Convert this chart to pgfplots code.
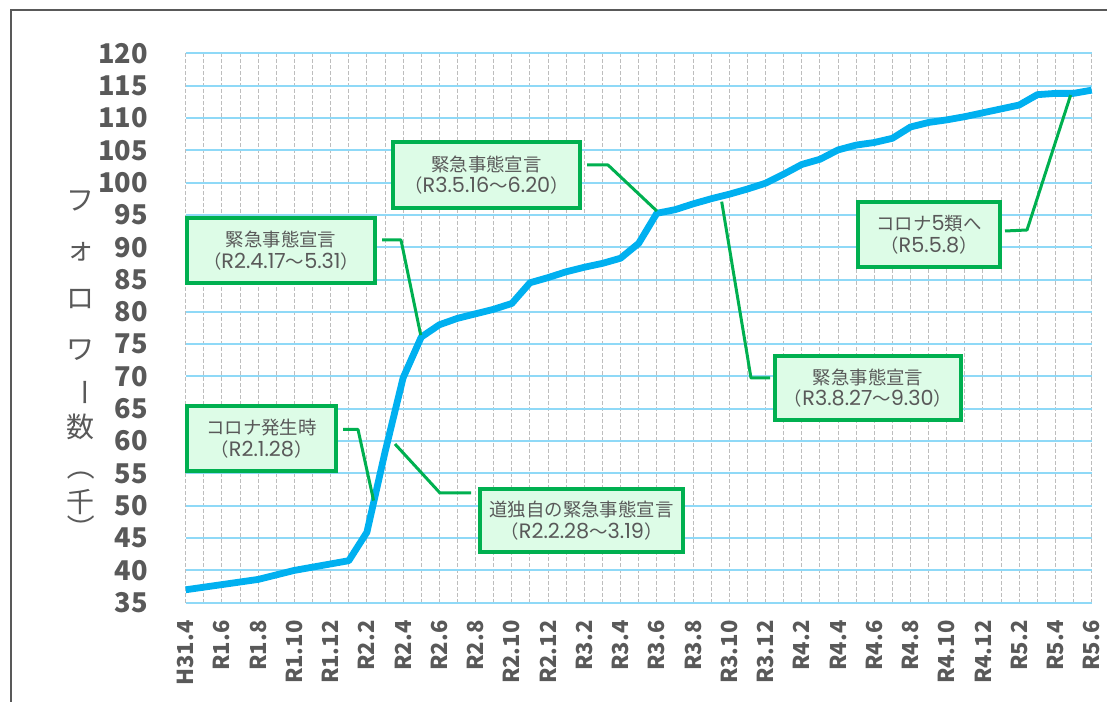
\documentclass[border=0pt]{standalone}
\usepackage{fontspec}
\setmainfont{Noto Sans CJK JP}
\newfontfamily\pop{Poppins}
\newcommand\lat[1]{{\fontsize{10.4}{10.8}\selectfont\pop #1}}
\usepackage{pgfplots}
\pgfplotsset{compat=1.18}
\definecolor{lineblue}{HTML}{00B0F0}
\definecolor{gridblue}{HTML}{8FD9F7}
\definecolor{gridgray}{HTML}{BDBDBD}
\definecolor{boxgreen}{HTML}{00B050}
\definecolor{boxfill}{HTML}{DDFCE7}
\definecolor{txtgray}{HTML}{595959}
\definecolor{framegray}{HTML}{595959}
\begin{document}
\begin{tikzpicture}
\useasboundingbox (0,0) rectangle (553.5pt,350.5pt);
\begin{axis}[
  at={(92.85pt,49.15pt)}, anchor=south west,
  scale only axis, width=453pt, height=274.7pt,
  xmin=0, xmax=50, ymin=35, ymax=120,
  clip=false,
  axis line style={draw=none},
  major tick length=0pt, minor tick length=0pt,
  xtick={0,2,...,50}, minor xtick={1,3,...,49},
  xticklabels={H31.4,R1.6,R1.8,R1.10,R1.12,R2.2,R2.4,R2.6,R2.8,R2.10,R2.12,R3.2,R3.4,R3.6,R3.8,R3.10,R3.12,R4.2,R4.4,R4.6,R4.8,R4.10,R4.12,R5.2,R5.4,R5.6},
  ytick={35,40,...,120},
  xmajorgrids, xminorgrids, ymajorgrids,
  major x grid style={gridgray, dash pattern=on 2pt off 1pt, line width=0.5pt},
  minor x grid style={gridgray, dash pattern=on 2pt off 1pt, line width=0.5pt},
  major y grid style={gridblue, line width=1pt},
  /pgf/number format/assume math mode=true,
  xticklabel style={rotate=90, anchor=east, inner sep=0pt, text=txtgray, font=\fontsize{11}{13}\selectfont\bfseries},
  yticklabel style={anchor=east, inner sep=0pt, text=txtgray, font=\fontsize{13.6}{16}\selectfont\bfseries},
  xticklabel shift=8.7pt,
  yticklabel shift=18.7pt,
]
\addplot[lineblue, line width=3.4pt, line join=round] coordinates {
(0,37.0) (1,37.4) (2,37.8) (3,38.2) (4,38.6) (5,39.3) (6,40.0) (7,40.5) (8,41.0) (9,41.5)
(10,45.9) (11,58.3) (12,69.8) (13,76.1) (14,78.0) (15,79.0) (16,79.7) (17,80.4) (18,81.3) (19,84.5)
(20,85.3) (21,86.2) (22,86.9) (23,87.5) (24,88.3) (25,90.6) (26,95.25) (27,95.8) (28,96.7) (29,97.5)
(30,98.2) (31,99.0) (32,99.9) (33,101.3) (34,102.8) (35,103.6) (36,105.05) (37,105.8) (38,106.2) (39,106.85)
(40,108.6) (41,109.3) (42,109.7) (43,110.2) (44,110.8) (45,111.4) (46,112.0) (47,113.6) (48,113.8) (49,113.8)
(50,114.3)
};
\coordinate (dA) at (axis cs:12.97,76.4);
\coordinate (dB) at (axis cs:26.0,95.6);
\coordinate (dC) at (axis cs:48.84,113.55);
\coordinate (dD) at (axis cs:29.58,97.05);
\coordinate (dE) at (axis cs:10.37,50.8);
\coordinate (dF) at (axis cs:11.55,59.55);
\end{axis}
\begin{scope}[x=0.5pt,y=-0.5pt,shift={(0pt,350.5pt)}]
  % frame
  \draw[framegray, line width=0.9pt] (11,705) -- (11,10) -- (1110,10);
  % y label
  \tikzset{yl/.style={text=txtgray, font=\fontsize{14}{16}\selectfont, inner sep=0pt}}
  \node[yl] at (80.7,200.7) {フ};
  \node[yl] at (80.7,251.7) {ォ};
  \node[yl] at (80.7,299) {ロ};
  \node[yl] at (80.7,350) {ワ};
  \node[yl, rotate=-90] at (80.7,393) {ー};
  \node[yl] at (80.7,427) {数};
  \node[yl, rotate=-90] at (80.7,467) {（};
  \node[yl] at (80.7,501.7) {千};
  \node[yl, rotate=-90] at (80.7,529) {）};
  % leaders
  \tikzset{ld/.style={boxgreen, line width=1.5pt, line join=round}}
  \draw[ld] (382,240) -- (401,240) -- (dA);
  \draw[ld] (587,165) -- (608,165) -- (dB);
  \draw[ld] (1005,231) -- (1027,230) -- (dC);
  \draw[ld] (770,378) -- (751,378) -- (dD);
  \draw[ld] (343,429.5) -- (358,429.5) -- (dE);
  \draw[ld] (471,493) -- (440,493) -- (dF);
  % boxes
  \tikzset{bx/.style={draw=boxgreen, line width=2pt, fill=boxfill, text=txtgray,
     font=\fontsize{9.2}{10.8}\selectfont, align=center, inner sep=0pt}}
  \node[bx, minimum width=94pt, minimum height=32.5pt] at (281,250.5) {緊急事態宣言\\（\lat{R2.4.17}〜\lat{5.31}）};
  \node[bx, minimum width=93.5pt, minimum height=33pt] at (486.5,175) {緊急事態宣言\\（\lat{R3.5.16}〜\lat{6.20}）};
  \node[bx, minimum width=71pt, minimum height=32.5pt] at (929,234.5) {コロナ\lat{5}類へ\\（\lat{R5.5.8}）};
  \node[bx, minimum width=93pt, minimum height=32pt] at (868,388) {緊急事態宣言\\（\lat{R3.8.27}〜\lat{9.30}）};
  \node[bx, minimum width=74.5pt, minimum height=32.5pt] at (261.5,438.5) {コロナ発生時\\（\lat{R2.1.28}）};
  \node[bx, minimum width=101.5pt, minimum height=31.5pt] at (581.5,520.5) {道独自の緊急事態宣言\\（\lat{R2.2.28}〜\lat{3.19}）};
\end{scope}
\end{tikzpicture}
\end{document}
